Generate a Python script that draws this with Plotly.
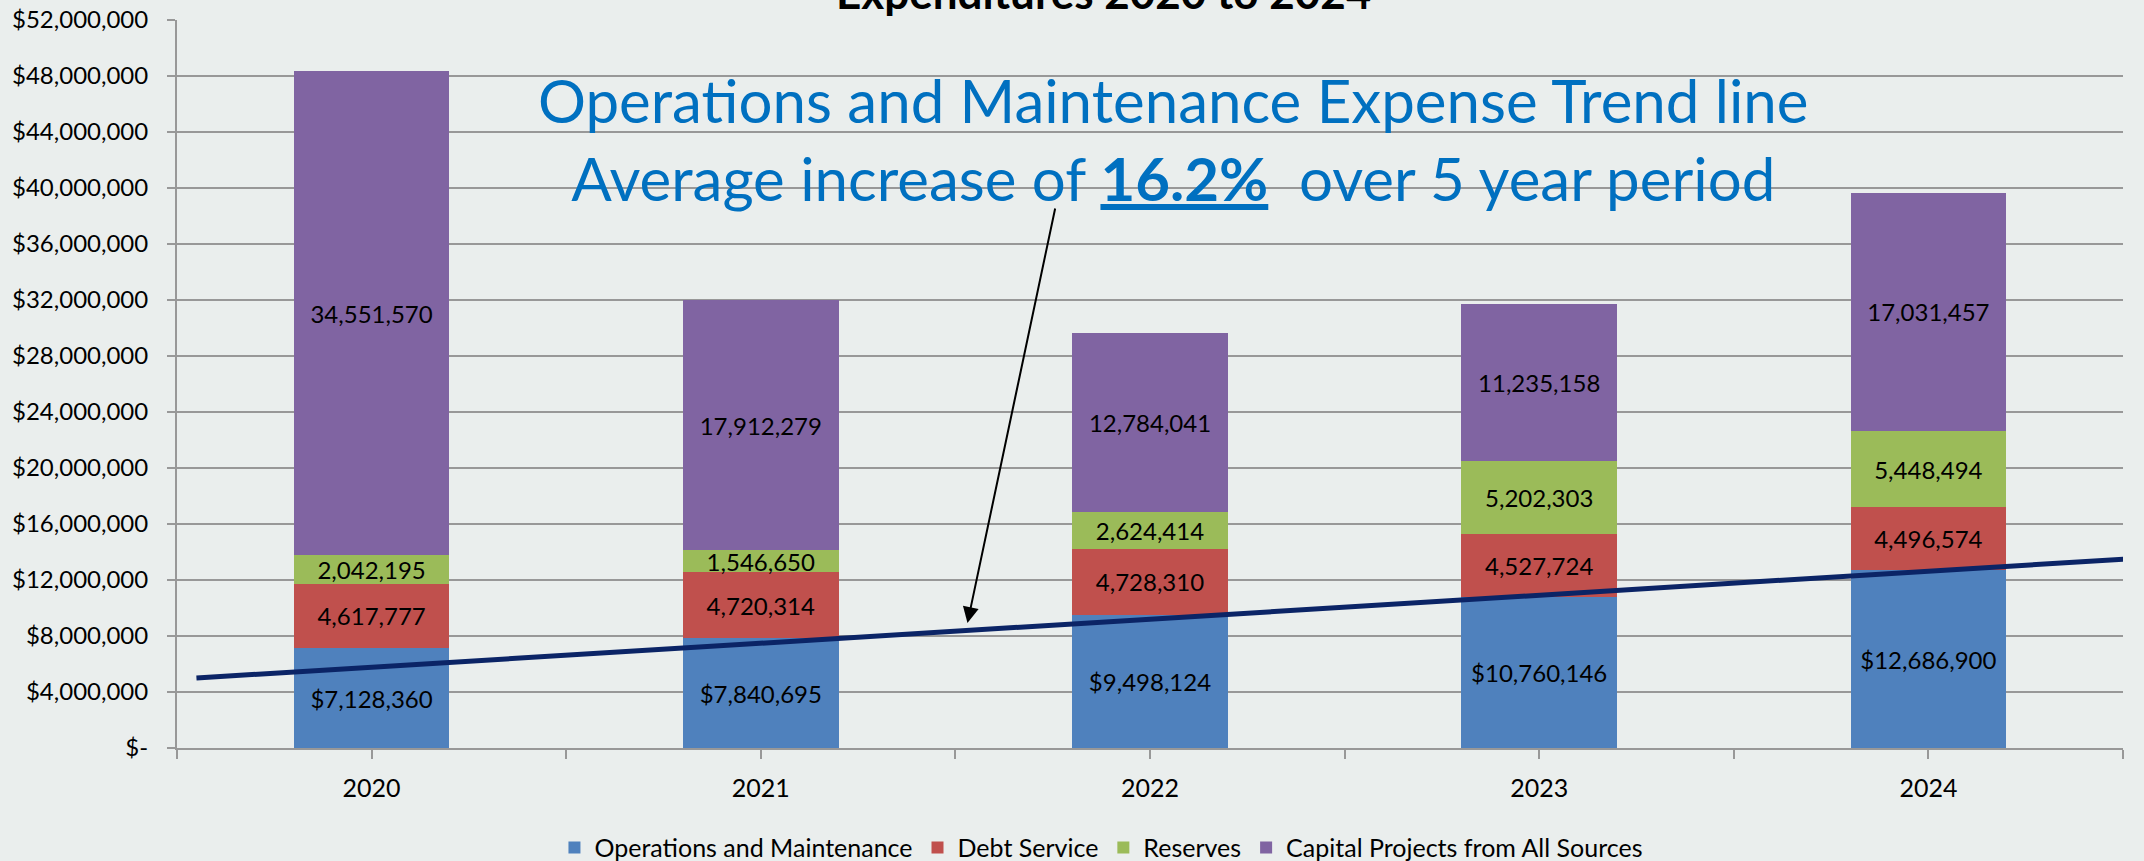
import plotly.graph_objects as go

years = ["2020", "2021", "2022", "2023", "2024"]
x_pos = [0, 1, 2, 3, 4]
om = [7128360, 7840695, 9498124, 10760146, 12686900]
debt = [4617777, 4720314, 4728310, 4527724, 4496574]
reserves = [2042195, 1546650, 2624414, 5202303, 5448494]
capital = [34551570, 17912279, 12784041, 11235158, 17031457]

trend_x = [-0.45, 4.55]
trend_y = [5000000, 13570000]

y_tickvals = [0, 4e6, 8e6, 12e6, 16e6, 20e6, 24e6, 28e6, 32e6, 36e6, 40e6, 44e6, 48e6, 52e6]
y_ticktext = ["$-", "$4,000,000", "$8,000,000", "$12,000,000", "$16,000,000", "$20,000,000",
              "$24,000,000", "$28,000,000", "$32,000,000", "$36,000,000", "$40,000,000",
              "$44,000,000", "$48,000,000", "$52,000,000"]
x_tickvals = [-0.5, 0, 0.5, 1, 1.5, 2, 2.5, 3, 3.5, 4, 4.5]
x_ticktext = ["", "2020", "", "2021", "", "2022", "", "2023", "", "2024", ""]

FONT = "Lato"
LBL = 24
BG = "#EAEEED"
GRID = "#989898"

fig = go.Figure()
series = [
    ("Operations and Maintenance", om, "#4F81BD", "$%{y:,.0f}"),
    ("Debt Service", debt, "#C0504D", "%{y:,.0f}"),
    ("Reserves", reserves, "#9BBB59", "%{y:,.0f}"),
    ("Capital Projects from All Sources", capital, "#8064A2", "%{y:,.0f}"),
]
for name, vals, col, tt in series:
    fig.add_trace(go.Bar(
        x=x_pos, y=vals, name=name, marker=dict(color=col, line=dict(width=0)),
        texttemplate=tt, textposition="inside", insidetextanchor="middle",
        textangle=0, textfont=dict(family=FONT, size=LBL, color="black"),
        hoverinfo="skip",
    ))

fig.add_trace(go.Scatter(
    x=trend_x, y=trend_y, mode="lines", line=dict(color="#0B2466", width=5),
    showlegend=False, hoverinfo="skip",
))

fig.update_layout(
    width=2144, height=861, autosize=False,
    barmode="stack", bargap=0.6,
    paper_bgcolor=BG, plot_bgcolor=BG,
    margin=dict(l=177, r=21, t=20, b=113, autoexpand=False),
    font=dict(family=FONT, size=24, color="black"),
    uniformtext=dict(minsize=LBL, mode="show"),
    showlegend=True,
    legend=dict(orientation="h", x=0.4748, xanchor="center",
                y=-0.137, yanchor="middle", font=dict(family=FONT, size=25),
                bgcolor="rgba(0,0,0,0)", traceorder="normal"),
    xaxis=dict(range=[-0.5, 4.5], tickvals=x_tickvals, ticktext=x_ticktext,
               showgrid=False, zeroline=False, showline=True, linecolor=GRID, linewidth=2,
               ticks="outside", ticklen=9, tickwidth=2, tickcolor=GRID,
               tickfont=dict(family=FONT, size=25), ticklabelstandoff=8),
    yaxis=dict(range=[0, 52e6], tickvals=y_tickvals, ticktext=y_ticktext,
               showgrid=True, gridcolor=GRID, gridwidth=2, zeroline=False,
               showline=True, linecolor=GRID, linewidth=2,
               ticks="outside", ticklen=8, tickwidth=2, tickcolor=GRID,
               tickfont=dict(family=FONT, size=24), ticklabelstandoff=14),
)

fig.add_annotation(
    text="<b>Expenditures 2020 to 2024</b>", xref="paper", yref="paper",
    x=0.476, y=1.0, xanchor="center", yanchor="bottom", showarrow=False,
    font=dict(family=FONT, size=44, color="black"),
)

fig.add_annotation(
    text="Operations and Maintenance Expense Trend line<br>Average increase of <b><u>16.2%</u></b>\u00a0\u00a0over 5 year period",
    xref="paper", yref="paper", x=0.5118, y=1.0 - (62 - 20) / 728,
    xanchor="center", yanchor="top", showarrow=False, align="center",
    font=dict(family=FONT, size=60, color="#0070C0"),
)

fig.add_annotation(
    x=1.531, y=8.93e6, xref="x", yref="y", ax=88, ay=-416, text="",
    showarrow=True, arrowhead=2, arrowsize=1.6, arrowwidth=2, arrowcolor="black",
    standoff=0,
)

fig.write_html("out.html", post_script="document.body.style.margin='0px';",
               config={"displayModeBar": False})
